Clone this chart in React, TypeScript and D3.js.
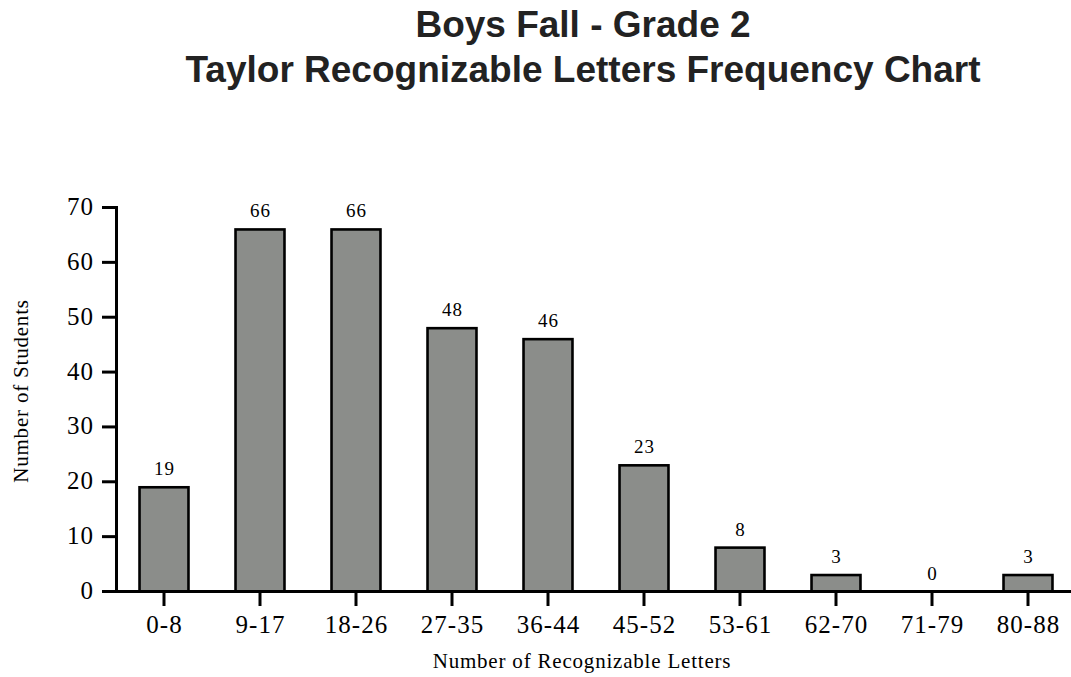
import React from "react";
import * as d3 from "d3";

const categories = ["0-8", "9-17", "18-26", "27-35", "36-44", "45-52", "53-61", "62-70", "71-79", "80-88"];
const counts = [19, 66, 66, 48, 46, 23, 8, 3, 0, 3];
const yTicks = [0, 10, 20, 30, 40, 50, 60, 70];
const titleLines = ["Boys Fall - Grade 2", "Taylor Recognizable Letters Frequency Chart"];
const xTitle = "Number of Recognizable Letters";
const yTitle = "Number of Students";

const W = 1071;
const H = 677;
const serif = "'Liberation Serif', 'Times New Roman', serif";
const sans = "'Liberation Sans', Arial, sans-serif";

export default function App() {
  const x = d3
    .scaleBand<string>()
    .domain(categories)
    .range([116, 1076])
    .paddingInner(0.49)
    .paddingOuter(0.245);
  const y = d3.scaleLinear().domain([0, 70]).range([591.5, 207.5]);
  const axisX = 116.5;
  const y0 = y(0);

  return (
    <svg width={W} height={H} style={{ position: "absolute", left: 0, top: 0, background: "#fff" }}>
      <rect x={0} y={0} width={W} height={H} fill="#fff" />
      {titleLines.map((t, i) => (
        <text
          key={t}
          x={583}
          y={i === 0 ? 37 : 82}
          textAnchor="middle"
          fontFamily={sans}
          fontWeight="bold"
          fontSize={37}
          fill="#222"
        >
          {t}
        </text>
      ))}

      {categories.map((c, i) => {
        const v = counts[i];
        const bx = x(c)!;
        const by = y(v);
        return (
          <g key={c}>
            {v > 0 && (
              <rect
                x={bx}
                y={by}
                width={x.bandwidth()}
                height={y0 - by}
                fill="#8b8d8a"
                stroke="#000"
                strokeWidth={2.6}
              />
            )}
            <text
              x={bx + x.bandwidth() / 2 + 0.5}
              y={by - 12}
              textAnchor="middle"
              fontFamily={serif}
              fontSize={19}
              letterSpacing={1}
              fill="#000"
            >
              {v}
            </text>
          </g>
        );
      })}

      <line x1={axisX} x2={axisX} y1={y(70) - 1.5} y2={y0} stroke="#000" strokeWidth={3} />
      {yTicks.map((t) => (
        <g key={t}>
          <line x1={102} x2={axisX} y1={y(t)} y2={y(t)} stroke="#000" strokeWidth={3} />
          <text
            x={94}
            y={y(t) + 7.5}
            textAnchor="end"
            fontFamily={serif}
            fontSize={25}
            letterSpacing={1}
            fill="#000"
          >
            {t}
          </text>
        </g>
      ))}

      <line x1={102} x2={W} y1={y0} y2={y0} stroke="#000" strokeWidth={3} />
      {categories.map((c) => {
        const cx = x(c)! + x.bandwidth() / 2;
        return (
          <g key={c}>
            <line x1={cx} x2={cx} y1={y0} y2={606} stroke="#000" strokeWidth={3} />
            <text
              x={cx + 0.5}
              y={633}
              textAnchor="middle"
              fontFamily={serif}
              fontSize={25}
              letterSpacing={1}
              fill="#000"
            >
              {c}
            </text>
          </g>
        );
      })}

      <text
        x={582}
        y={668}
        textAnchor="middle"
        fontFamily={serif}
        fontSize={21}
        letterSpacing={0.8}
        fill="#000"
      >
        {xTitle}
      </text>
      <text
        transform="translate(28,391) rotate(-90)"
        textAnchor="middle"
        fontFamily={serif}
        fontSize={21}
        letterSpacing={0.8}
        fill="#000"
      >
        {yTitle}
      </text>
    </svg>
  );
}
